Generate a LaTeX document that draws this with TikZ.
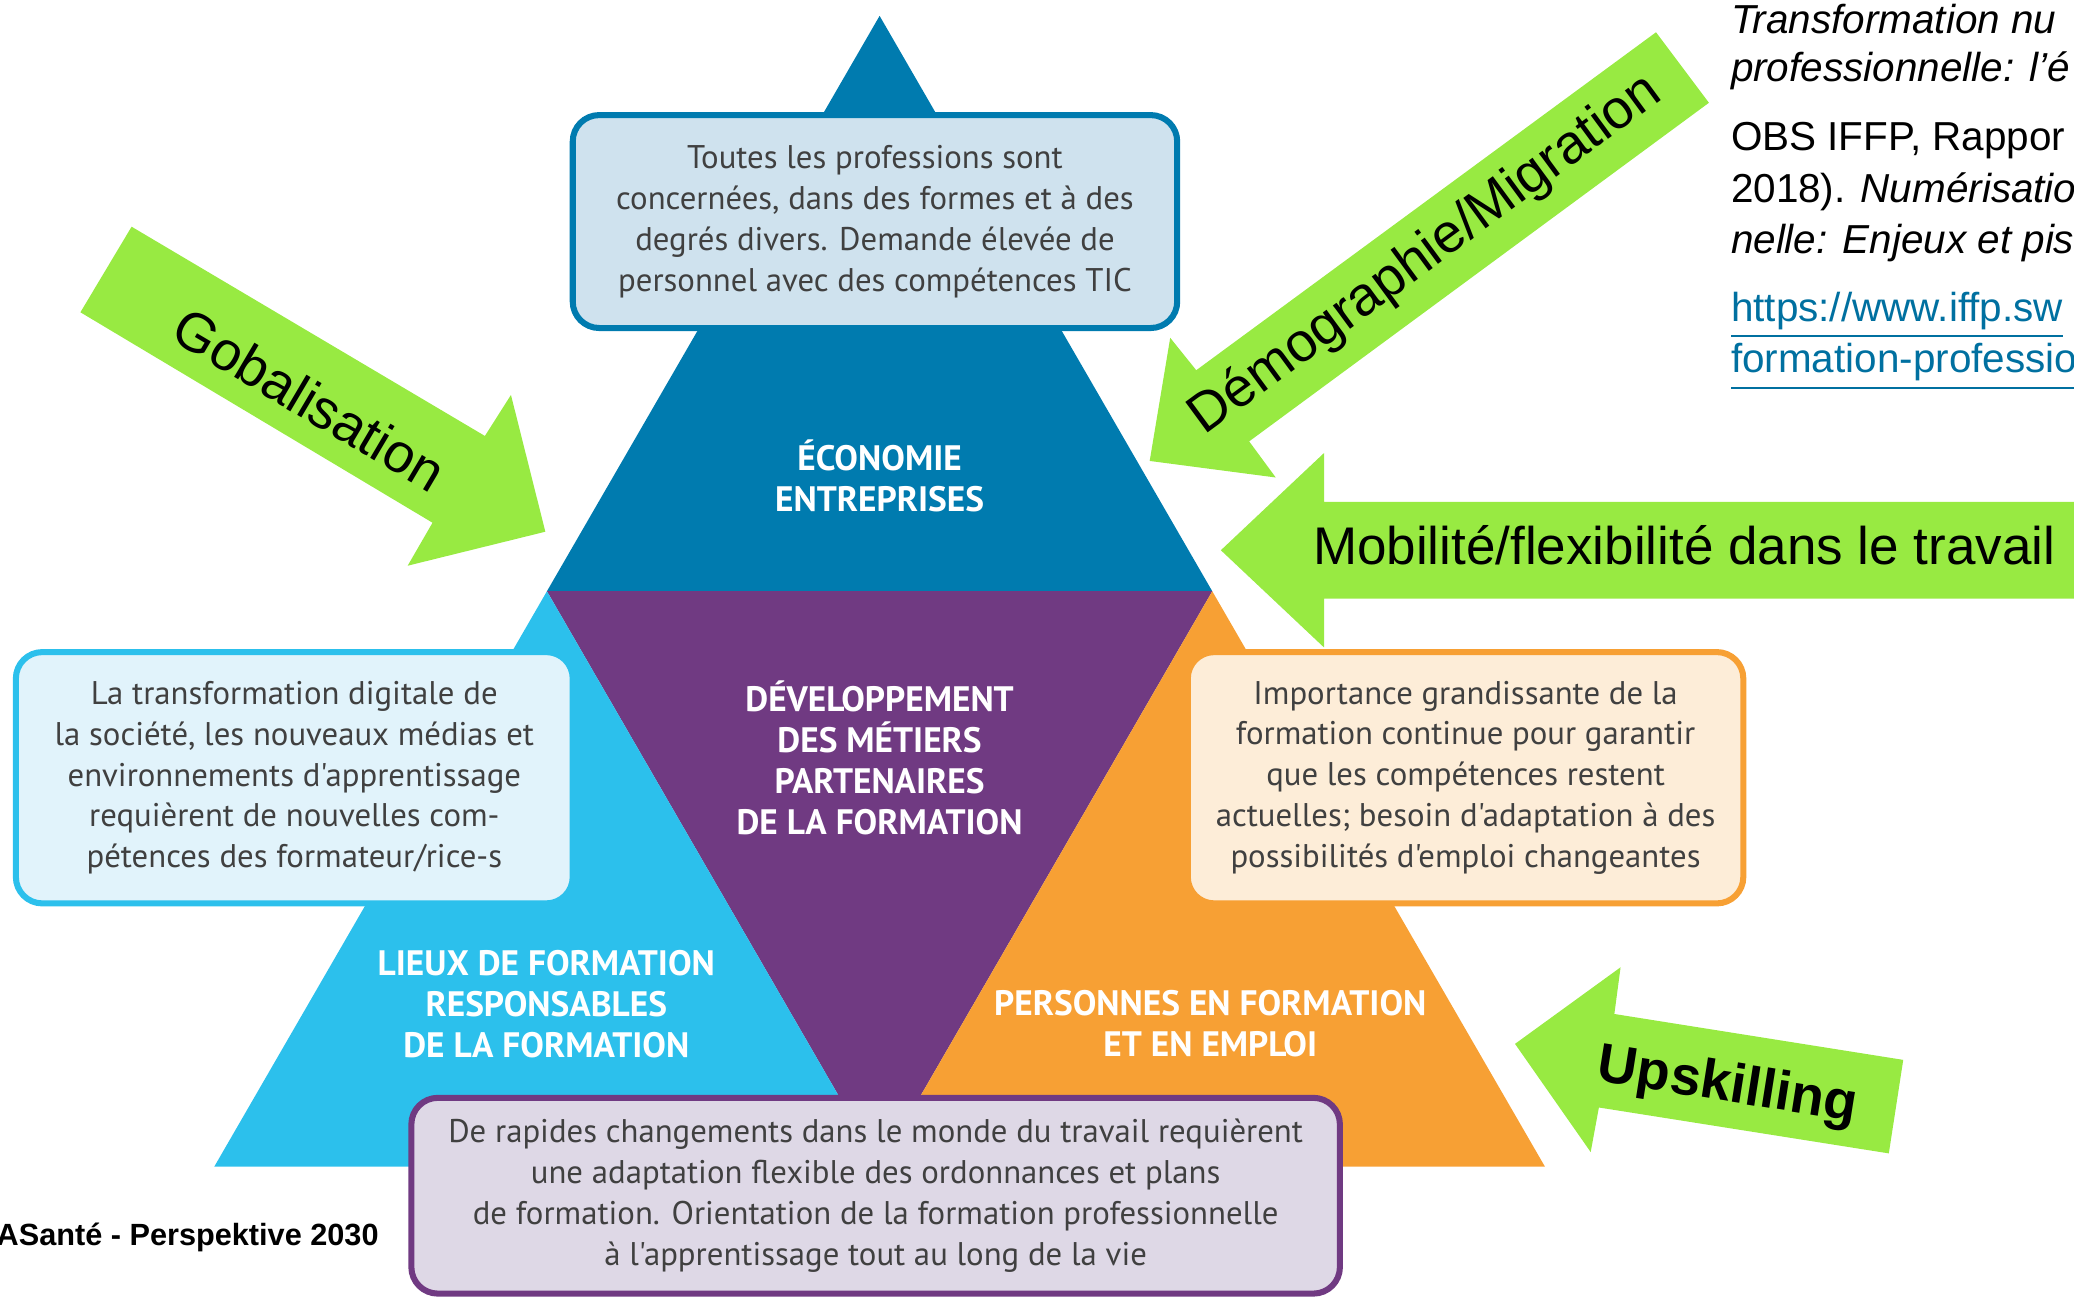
\documentclass[tikz,border=0pt]{standalone}
\usepackage{fontspec}
\setmainfont{Liberation Sans}
\newfontfamily\boxfont{PT Sans}
\newfontfamily\sectorfont{PT Sans}
\usepackage{xcolor}
\definecolor{ecoblue}{RGB}{0,123,175}
\definecolor{devpurple}{RGB}{112,58,130}
\definecolor{placecyan}{RGB}{44,192,236}
\definecolor{personorange}{RGB}{247,160,52}
\definecolor{trendgreen}{RGB}{152,234,66}
\definecolor{ecofill}{RGB}{207,226,238}
\definecolor{placefill}{RGB}{225,243,251}
\definecolor{personfill}{RGB}{253,237,216}
\definecolor{devfill}{RGB}{222,216,230}
\definecolor{boxtext}{RGB}{64,64,64}
\definecolor{linkblue}{RGB}{0,112,160}
\usetikzlibrary{positioning}
\usepackage{tikz}

\begin{document}
\begin{tikzpicture}[x=0.1mm,y=-0.1mm,
      info style/.style={rectangle,rounded corners=2mm,line width=1.3pt,
        align=center,text=boxtext,inner sep=0pt,
        font=\boxfont\fontsize{7.05}{8.8}\selectfont},
      sector style/.style={align=center,text=white,inner sep=0pt,
        font=\sectorfont\bfseries\fontsize{7.6}{8.8}\selectfont},
      trend style/.style={fill=trendgreen},
      trend text/.style={inner sep=0pt,font=\fontsize{11.8}{14}\selectfont},
      ref style/.style={anchor=base west,align=left,inner sep=0pt,
        font=\fontsize{8.7}{11.1}\selectfont}
      ]
      \useasboundingbox (0,0) rectangle (1568,981);

      \coordinate (apex) at (665,12);
      \coordinate (left) at (162,882);
      \coordinate (right) at (1168,882);
      \coordinate (midleft) at (413.5,447);
      \coordinate (midright) at (916.5,447);
      \coordinate (midbottom) at (665,882);

      \fill[ecoblue] (apex) -- (midleft) -- (midright) -- cycle;
      \fill[devpurple] (midleft) -- (midright) -- (midbottom) -- cycle;
      \fill[placecyan] (midleft) -- (midbottom) -- (left) -- cycle;
      \fill[personorange] (midright) -- (right) -- (midbottom) -- cycle;

      \node[info style,draw=ecoblue,fill=ecofill,minimum width=45.7mm,minimum height=16.1mm] (ecobox) at (661.5,167.5)
        {Toutes les professions sont\\concernées, dans des formes et à des\\degrés divers. Demande élevée de\\personnel avec des compétences TIC};
      \node[info style,draw=placecyan,fill=placefill,minimum width=42.1mm,minimum height=19mm] (placebox) at (222.5,588)
        {La transformation digitale de\\la société, les nouveaux médias et\\environnements d'apprentissage\\requièrent de nouvelles com-\\pétences des formateur/rice-s};
      \node[info style,draw=personorange,fill=personfill,minimum width=42mm,minimum height=19mm] (personbox) at (1108,588)
        {Importance grandissante de la\\formation continue pour garantir\\que les compétences restent\\actuelles; besoin d'adaptation à des\\possibilités d'emploi changeantes};
      \node[info style,draw=devpurple,fill=devfill,minimum width=70.2mm,minimum height=14.8mm] (devbox) at (662,904)
        {De rapides changements dans le monde du travail requièrent\\une adaptation flexible des ordonnances et plans\\de formation. Orientation de la formation professionnelle\\à l'apprentissage tout au long de la vie};

      \node[sector style] (eco) at (665,360) {ÉCONOMIE\\ENTREPRISES};
      \node[sector style] (dev) at (665,573) {DÉVELOPPEMENT\\DES MÉTIERS\\PARTENAIRES\\DE LA FORMATION};
      \node[sector style] (place) at (413,759) {LIEUX DE FORMATION\\RESPONSABLES\\DE LA FORMATION};
      \node[sector style] (person) at (915,774) {PERSONNES EN FORMATION\\ET EN EMPLOI};

      % green trend arrows
      \fill[trend style] (99.5,171.4) -- (366.6,329.6) -- (386.3,298.6) -- (412.3,402) -- (308.2,427.7) -- (327,395.2) -- (60.8,236.1) -- cycle;
      \fill[trend style] (1252,24.4) -- (1292,77.7) -- (944.4,333.7) -- (964.5,361) -- (869.2,348.5) -- (884.7,255.4) -- (904.4,279.9) -- cycle;
      \fill[trend style] (923,416) -- (1001,342.5) -- (1001,379.5) -- (1580,379.5) -- (1580,452.5) -- (1001,452.5) -- (1001,489.5) -- cycle;
      \fill[trend style] (1145.4,789.2) -- (1225.2,731.3) -- (1220.5,766.6) -- (1438.9,801.3) -- (1428,872) -- (1208.8,837.3) -- (1202.6,871) -- cycle;

      \node[trend text,rotate=-30.6] (glob) at (234,302) {Gobalisation};
      \node[trend text,rotate=36.3] (demo) at (1078,193) {Démographie/Migration};
      \node[trend text,font=\fontsize{11.4}{14}\selectfont,anchor=base west] (mob) at (992,427) {Mobilité/flexibilité dans le travail};
      \node[trend text,font=\fontsize{11.8}{14}\selectfont\bfseries,rotate=-9] (upskill) at (1306,822) {Upskilling};

      % source (base = last line)
      \node[ref style,font=\fontsize{8.7}{10.4}\selectfont\itshape] (title) at (1308,62) {Transformation nu\\professionnelle: l’é};
      \node[ref style] (obs) at (1308,192) {OBS IFFP, Rappor\\2018). \textit{Numérisatio}\\\textit{nelle: Enjeux et pis}};
      \node[ref style,text=linkblue] (link) at (1308,282) {\underline{https://www.iffp.sw}\\\underline{formation-professio}};
      \node[anchor=base east,inner sep=0pt,font=\fontsize{6.6}{8}\selectfont\bfseries] (odasante) at (287,942) {ASanté - Perspektive 2030};
    \end{tikzpicture}
\end{document}
